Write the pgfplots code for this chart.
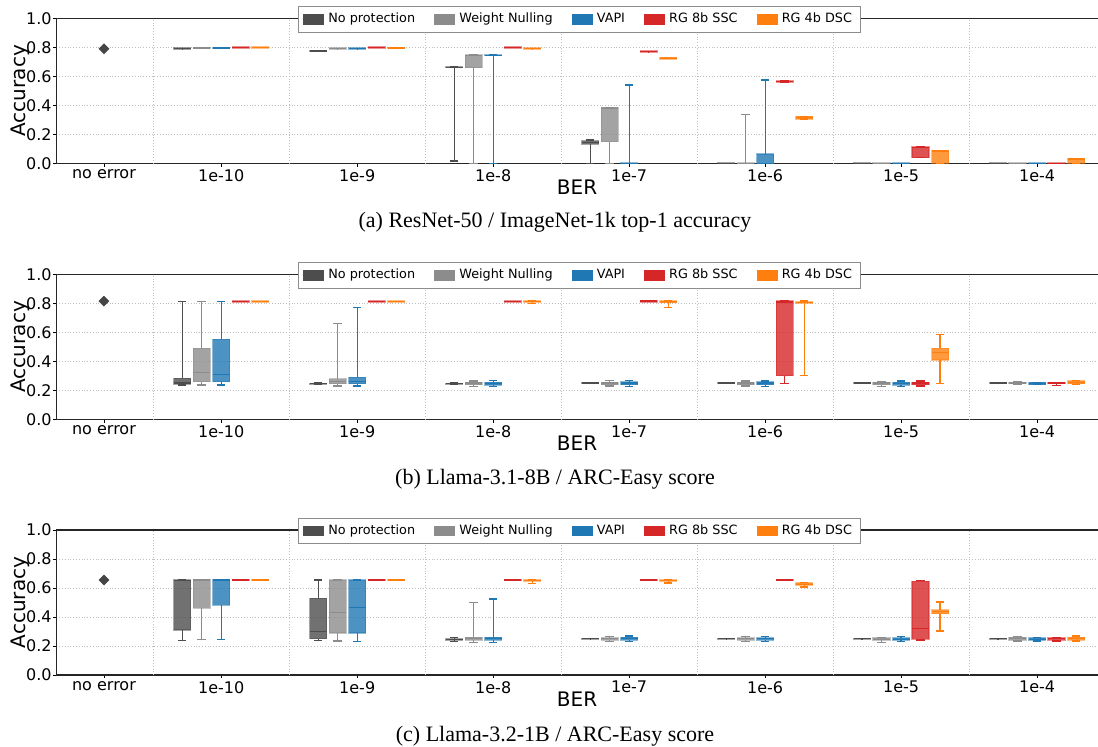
\documentclass[border=0pt]{standalone}
\usepackage{pgfplots}
\pgfplotsset{compat=1.18}
\usepgfplotslibrary{statistics}
\usepackage{fontspec}
\setmainfont{DejaVu Sans}
\newfontfamily\capfont{Liberation Serif}
\definecolor{npc}{HTML}{4D4D4D}
\definecolor{wnc}{HTML}{8C8C8C}
\definecolor{vac}{HTML}{1F77B4}
\definecolor{rec}{HTML}{D62728}
\definecolor{orc}{HTML}{FF7F0E}
\pgfplotsset{
  s0/.style={draw=npc, line width=0.65pt, boxplot/every box/.style={fill=npc, fill opacity=0.8, draw=npc, draw opacity=0.5}},
  s1/.style={draw=wnc, line width=0.65pt, boxplot/every box/.style={fill=wnc, fill opacity=0.8, draw=wnc, draw opacity=0.5}},
  s2/.style={draw=vac, line width=0.65pt, boxplot/every box/.style={fill=vac, fill opacity=0.8, draw=vac, draw opacity=0.5}},
  s3/.style={draw=rec, line width=0.65pt, boxplot/every box/.style={fill=rec, fill opacity=0.8, draw=rec, draw opacity=0.5}},
  s4/.style={draw=orc, line width=0.65pt, boxplot/every box/.style={fill=orc, fill opacity=0.8, draw=orc, draw opacity=0.5}},
  myax/.style={
    scale only axis, width=524.4pt, height=72.5pt,
    xmin=-0.713, xmax=7, ymin=0, ymax=1,
    xtick={-0.3625,0.5,1.5,2.5,3.5,4.5,5.5,6.5},
    xticklabels={no error,1e-10,1e-9,1e-8,1e-7,1e-6,1e-5,1e-4},
    ytick={0,0.2,0.4,0.6,0.8,1.0},
    yticklabels={0.0,0.2,0.4,0.6,0.8,1.0},
    extra x ticks={0,1,2,3,4,5,6}, extra x tick labels={},
    extra x tick style={grid=major, major tick length=0pt},
    ymajorgrids, grid style={densely dotted, black!25, line width=0.4pt},
    tick align=outside, tick pos=left, major tick length=1.6pt,
    tick style={black, line width=0.4pt},
    axis line style={black!85, line width=0.6pt},
    tick label style={font=\fontsize{8}{9}\selectfont},
    yticklabel style={xshift=2.8pt},
    xticklabel style={yshift=2pt},
    label style={font=\fontsize{8}{9}\selectfont},
    xlabel=BER, ylabel=Accuracy,
    every axis x label/.style={at={(axis description cs:0.4965,-0.1655)}, anchor=center},
    every axis y label/.style={at={(axis description cs:-0.0345,0.5)}, rotate=90, anchor=center},
    boxplot/draw direction=y,
    boxplot/box extend=0.125, boxplot/whisker extend=0.0625,
    legend columns=5, legend cell align=left,
    legend image code/.code={\path[##1, draw=none] (0pt,-2.6pt) rectangle (10.5pt,2.6pt);},
    legend style={at={(axis description cs:0.499,1)}, anchor=center, yshift=-0.6pt,
      font=\fontsize{6.4}{7.5}\selectfont, draw=black!45, line width=0.5pt, fill=white,
      inner xsep=2.5pt, inner ysep=1.2pt,
      /tikz/every even column/.append style={column sep=7.6pt}},
  }
}
\newcommand\bx[7]{\addplot[s#2, forget plot, boxplot prepared={draw position={#1+0.2132+#2*0.1434}, lower whisker=#3, lower quartile=#4, median=#5, upper quartile=#6, upper whisker=#7}] coordinates {};}
\newcommand\legendstuff{%
  \addlegendimage{fill=npc}\addlegendentry{No protection}
  \addlegendimage{fill=wnc}\addlegendentry{Weight Nulling}
  \addlegendimage{fill=vac}\addlegendentry{VAPI}
  \addlegendimage{fill=rec}\addlegendentry{RG 8b SSC}
  \addlegendimage{fill=orc}\addlegendentry{RG 4b DSC}}
\newcommand\noerr[1]{\addplot[forget plot, only marks, mark=square*, mark size=1.7pt, mark options={rotate=45, fill=npc!90!black, draw=npc!90!black}] coordinates {(-0.3625,#1)};}
\begin{document}
\begin{tikzpicture}
\useasboundingbox (0,0) rectangle (549pt,-373pt);
% ---------------- (a) ----------------
\begin{axis}[myax, at={(28.15pt,-81.65pt)}, anchor=south west]
\legendstuff
\noerr{0.79}
\bx{0}{0}{0.79}{0.785}{0.79}{0.795}{0.79}
\bx{0}{1}{0.795}{0.79}{0.795}{0.80}{0.795}
\bx{0}{2}{0.795}{0.79}{0.795}{0.80}{0.795}
\bx{0}{3}{0.80}{0.795}{0.80}{0.805}{0.80}
\bx{0}{4}{0.80}{0.795}{0.80}{0.805}{0.80}
\bx{1}{0}{0.775}{0.77}{0.775}{0.78}{0.775}
\bx{1}{1}{0.79}{0.785}{0.79}{0.795}{0.79}
\bx{1}{2}{0.79}{0.785}{0.79}{0.795}{0.79}
\bx{1}{3}{0.80}{0.795}{0.80}{0.805}{0.80}
\bx{1}{4}{0.795}{0.79}{0.795}{0.80}{0.795}
\bx{2}{0}{0.015}{0.66}{0.663}{0.667}{0.667}
\bx{2}{1}{0.0}{0.66}{0.745}{0.75}{0.75}
\bx{2}{2}{0.0}{0.742}{0.745}{0.748}{0.748}
\bx{2}{3}{0.80}{0.795}{0.80}{0.805}{0.80}
\bx{2}{4}{0.79}{0.785}{0.79}{0.795}{0.79}
\bx{3}{0}{0.0}{0.13}{0.145}{0.155}{0.16}
\bx{3}{1}{0.0}{0.15}{0.38}{0.385}{0.385}
\bx{3}{2}{0.0}{0.0}{0.0}{0.003}{0.54}
\bx{3}{3}{0.77}{0.765}{0.77}{0.775}{0.77}
\bx{3}{4}{0.725}{0.72}{0.725}{0.73}{0.725}
\bx{4}{0}{0}{0}{0}{0.003}{0}
\bx{4}{1}{0}{0}{0}{0.003}{0.335}
\bx{4}{2}{0}{0}{0}{0.065}{0.575}
\bx{4}{3}{0.56}{0.56}{0.565}{0.57}{0.57}
\bx{4}{4}{0.305}{0.305}{0.315}{0.325}{0.325}
\bx{5}{0}{0}{0}{0}{0.003}{0}
\bx{5}{1}{0}{0}{0}{0.003}{0}
\bx{5}{2}{0}{0}{0}{0.003}{0}
\bx{5}{3}{0.04}{0.04}{0.11}{0.115}{0.115}
\bx{5}{4}{0}{0}{0.085}{0.09}{0.09}
\bx{6}{0}{0}{0}{0}{0.003}{0}
\bx{6}{1}{0}{0}{0}{0.003}{0}
\bx{6}{2}{0}{0}{0}{0.003}{0}
\bx{6}{3}{0}{0}{0}{0.003}{0}
\bx{6}{4}{0}{0}{0.03}{0.035}{0.035}
\end{axis}
% ---------------- (b) ----------------
\begin{axis}[myax, at={(28.15pt,-209.65pt)}, anchor=south west]
\legendstuff
\noerr{0.815}
\bx{0}{0}{0.237}{0.243}{0.25}{0.283}{0.811}
\bx{0}{1}{0.237}{0.26}{0.324}{0.49}{0.813}
\bx{0}{2}{0.237}{0.26}{0.31}{0.552}{0.813}
\bx{0}{3}{0.813}{0.808}{0.813}{0.818}{0.813}
\bx{0}{4}{0.813}{0.808}{0.813}{0.818}{0.813}
\bx{1}{0}{0.24}{0.242}{0.245}{0.249}{0.252}
\bx{1}{1}{0.23}{0.245}{0.26}{0.28}{0.662}
\bx{1}{2}{0.23}{0.245}{0.263}{0.29}{0.77}
\bx{1}{3}{0.813}{0.808}{0.813}{0.818}{0.813}
\bx{1}{4}{0.813}{0.808}{0.813}{0.818}{0.813}
\bx{2}{0}{0.24}{0.242}{0.246}{0.249}{0.252}
\bx{2}{1}{0.225}{0.24}{0.25}{0.255}{0.265}
\bx{2}{2}{0.225}{0.237}{0.245}{0.255}{0.27}
\bx{2}{3}{0.813}{0.808}{0.813}{0.818}{0.813}
\bx{2}{4}{0.80}{0.807}{0.813}{0.816}{0.818}
\bx{3}{0}{0.25}{0.247}{0.25}{0.253}{0.25}
\bx{3}{1}{0.23}{0.24}{0.25}{0.255}{0.268}
\bx{3}{2}{0.228}{0.24}{0.25}{0.26}{0.27}
\bx{3}{3}{0.815}{0.81}{0.815}{0.82}{0.815}
\bx{3}{4}{0.77}{0.805}{0.812}{0.815}{0.82}
\bx{4}{0}{0.25}{0.247}{0.25}{0.253}{0.25}
\bx{4}{1}{0.23}{0.24}{0.25}{0.255}{0.265}
\bx{4}{2}{0.225}{0.24}{0.25}{0.258}{0.265}
\bx{4}{3}{0.245}{0.30}{0.81}{0.815}{0.818}
\bx{4}{4}{0.30}{0.80}{0.805}{0.81}{0.815}
\bx{5}{0}{0.25}{0.247}{0.25}{0.253}{0.25}
\bx{5}{1}{0.225}{0.24}{0.25}{0.255}{0.26}
\bx{5}{2}{0.225}{0.235}{0.245}{0.255}{0.265}
\bx{5}{3}{0.23}{0.24}{0.25}{0.255}{0.265}
\bx{5}{4}{0.245}{0.41}{0.46}{0.49}{0.585}
\bx{6}{0}{0.25}{0.247}{0.25}{0.253}{0.25}
\bx{6}{1}{0.24}{0.245}{0.25}{0.255}{0.26}
\bx{6}{2}{0.24}{0.24}{0.245}{0.255}{0.255}
\bx{6}{3}{0.235}{0.245}{0.25}{0.255}{0.255}
\bx{6}{4}{0.24}{0.245}{0.255}{0.265}{0.27}
\end{axis}
% ---------------- (c) ----------------
\begin{axis}[myax, at={(28.15pt,-337.5pt)}, anchor=south west]
\legendstuff
\noerr{0.655}
\bx{0}{0}{0.24}{0.31}{0.65}{0.655}{0.655}
\bx{0}{1}{0.245}{0.46}{0.655}{0.657}{0.657}
\bx{0}{2}{0.245}{0.48}{0.655}{0.657}{0.657}
\bx{0}{3}{0.655}{0.65}{0.655}{0.66}{0.655}
\bx{0}{4}{0.655}{0.65}{0.655}{0.66}{0.655}
\bx{1}{0}{0.24}{0.25}{0.30}{0.53}{0.655}
\bx{1}{1}{0.235}{0.29}{0.43}{0.655}{0.655}
\bx{1}{2}{0.23}{0.29}{0.465}{0.655}{0.655}
\bx{1}{3}{0.655}{0.65}{0.655}{0.66}{0.655}
\bx{1}{4}{0.655}{0.65}{0.655}{0.66}{0.655}
\bx{2}{0}{0.23}{0.24}{0.245}{0.25}{0.26}
\bx{2}{1}{0.225}{0.24}{0.25}{0.26}{0.50}
\bx{2}{2}{0.225}{0.24}{0.25}{0.26}{0.525}
\bx{2}{3}{0.655}{0.65}{0.655}{0.66}{0.655}
\bx{2}{4}{0.63}{0.647}{0.652}{0.656}{0.656}
\bx{3}{0}{0.25}{0.247}{0.25}{0.253}{0.25}
\bx{3}{1}{0.23}{0.24}{0.25}{0.255}{0.265}
\bx{3}{2}{0.23}{0.24}{0.25}{0.26}{0.27}
\bx{3}{3}{0.655}{0.65}{0.655}{0.66}{0.655}
\bx{3}{4}{0.635}{0.645}{0.65}{0.655}{0.66}
\bx{4}{0}{0.25}{0.247}{0.25}{0.253}{0.25}
\bx{4}{1}{0.23}{0.24}{0.25}{0.255}{0.265}
\bx{4}{2}{0.23}{0.24}{0.25}{0.255}{0.265}
\bx{4}{3}{0.65}{0.65}{0.655}{0.66}{0.66}
\bx{4}{4}{0.606}{0.618}{0.625}{0.634}{0.64}
\bx{5}{0}{0.25}{0.247}{0.25}{0.253}{0.25}
\bx{5}{1}{0.225}{0.24}{0.245}{0.255}{0.26}
\bx{5}{2}{0.23}{0.24}{0.245}{0.255}{0.265}
\bx{5}{3}{0.242}{0.245}{0.323}{0.645}{0.652}
\bx{5}{4}{0.304}{0.422}{0.436}{0.45}{0.503}
\bx{6}{0}{0.25}{0.247}{0.25}{0.253}{0.25}
\bx{6}{1}{0.235}{0.24}{0.25}{0.26}{0.265}
\bx{6}{2}{0.235}{0.24}{0.245}{0.255}{0.26}
\bx{6}{3}{0.235}{0.24}{0.25}{0.255}{0.255}
\bx{6}{4}{0.235}{0.24}{0.25}{0.26}{0.27}
\end{axis}
\begin{scope}[font=\capfont\fontsize{11}{13}\selectfont]
\node at (277.5pt,-111pt) {(a) ResNet-50 / ImageNet-1k top-1 accuracy};
\node at (277.5pt,-239.5pt) {(b) Llama-3.1-8B / ARC-Easy score};
\node at (277.5pt,-368pt) {(c) Llama-3.2-1B / ARC-Easy score};
\end{scope}
\end{tikzpicture}
\end{document}
